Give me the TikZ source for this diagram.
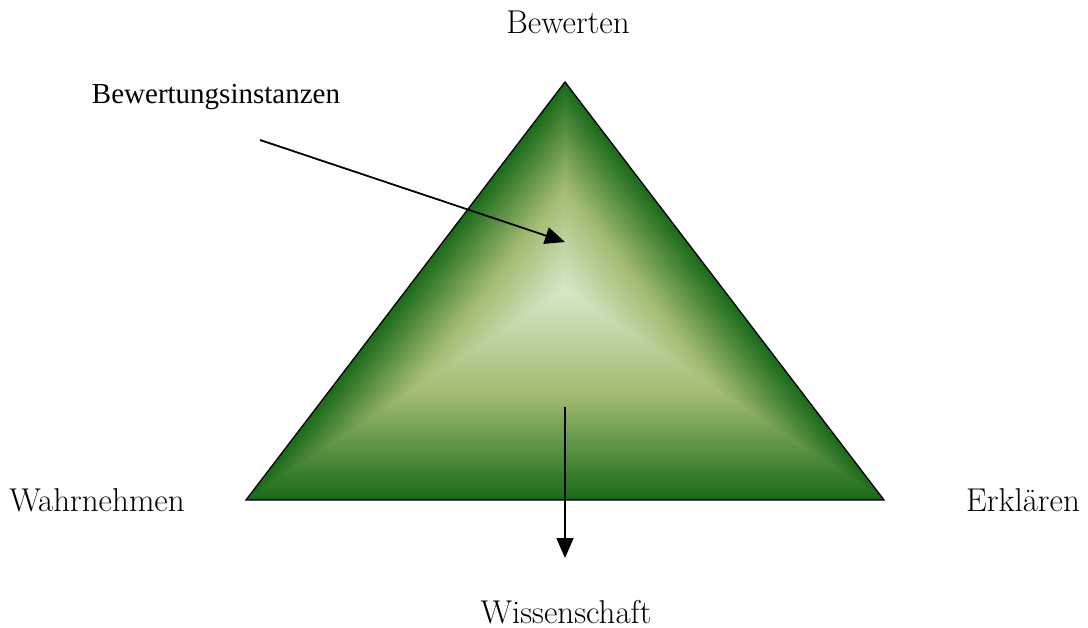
\documentclass[tikz,border=0pt]{standalone}
\usepackage{fontspec}
\newfontfamily\timesfont{Liberation Serif}
\usetikzlibrary{calc,arrows.meta}
\definecolor{dark}{RGB}{26,106,26}
\definecolor{mid}{RGB}{162,188,114}
\definecolor{light}{RGB}{216,232,202}
\newcommand*{\fs}{33}

\begin{document}
\begin{tikzpicture}[
   x=1pt, y=-1pt,
   word/.style={inner sep=0, font=\fontsize{\fs}{38}\selectfont},
   pointer/.style={-{Triangle[length=20pt, width=17pt]}, line width=1.8}
  ]

  \useasboundingbox (0,0) rectangle (1088,628);

  % Triangle corners and the light centre
  \coordinate (top) at (565,82);
  \coordinate (left) at (246,500);
  \coordinate (right) at (884,500);
  \coordinate (centre) at (565,290);

  % Bevel shading: shrinking copies round the centre
  \foreach \i in {0,...,89} {
    \pgfmathsetmacro{\sc}{1-\i/90}
    \ifdim\sc pt>0.5pt
      \pgfmathtruncatemacro{\p}{(\sc-0.5)*200}
      \colorlet{bevelcol}{dark!\p!mid}
    \else
      \pgfmathtruncatemacro{\p}{\sc*200}
      \colorlet{bevelcol}{mid!\p!light}
    \fi
    \fill[bevelcol] ($(centre)!\sc!(top)$) -- ($(centre)!\sc!(left)$)
      -- ($(centre)!\sc!(right)$) -- cycle;
  }
  \draw[line width=1.3] (top) -- (left) -- (right) -- cycle;

  % Labels
  \node[word] (bewerten) at (568,22) {Bewerten};
  \node[word, font=\fontsize{29}{34}\selectfont\timesfont] (instanzen) at (216,97) {Bewertungsinstanzen};
  \node[word] (wahrnehmen) at (97,500) {Wahrnehmen};
  \node[word] (erklaeren) at (1023,500) {Erklären};
  \node[word] (wissenschaft) at (566,612) {Wissenschaft};

  % Arrows
  \coordinate (inFrom) at (260,140);
  \coordinate (inTo) at (565,242);
  \coordinate (downFrom) at (565,407);
  \coordinate (downTo) at (565,558);
  \draw[pointer] (inFrom) -- (inTo);
  \draw[pointer] (downFrom) -- (downTo);

\end{tikzpicture}
\end{document}
